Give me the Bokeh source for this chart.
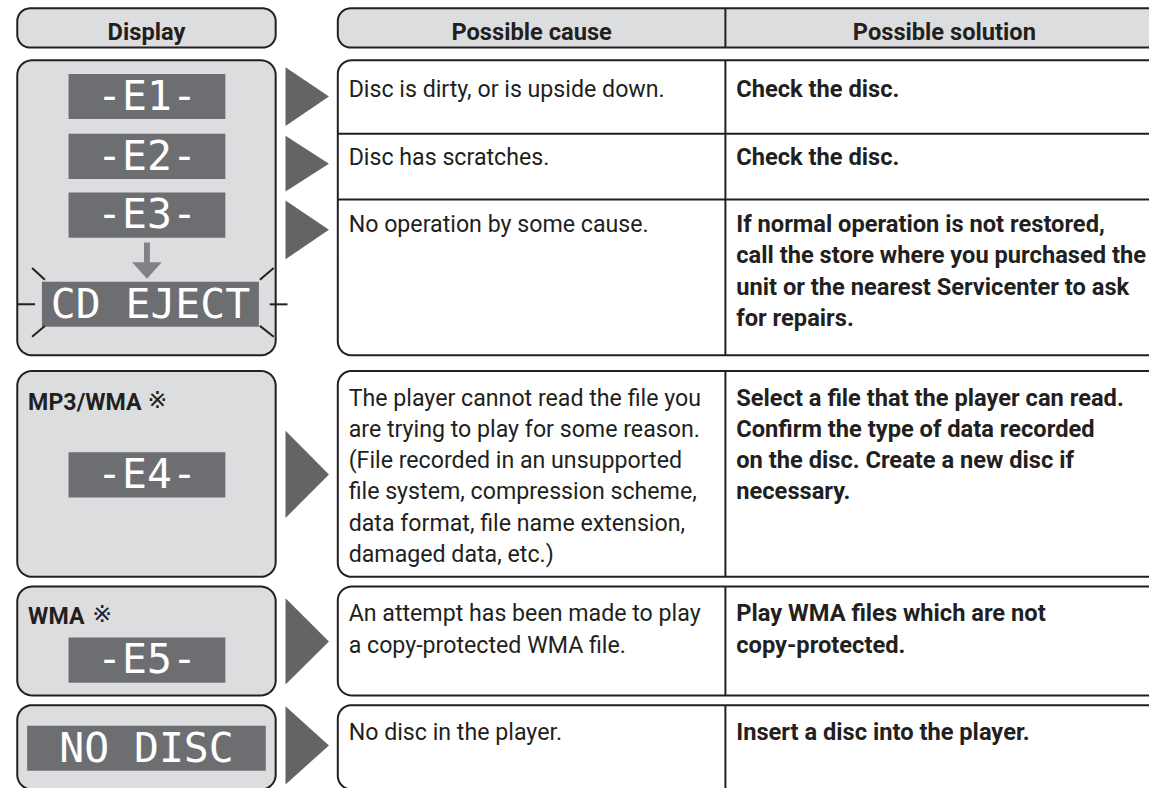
import numpy as np
from bokeh.plotting import figure
from bokeh.models import Range1d, ColumnDataSource
from bokeh.core.properties import value
from bokeh.embed import file_html
from bokeh.resources import INLINE

# ---------------- data ----------------
headers = ["Display", "Possible cause", "Possible solution"]
display_codes = ["-E1-", "-E2-", "-E3-", "CD EJECT", "-E4-", "-E5-", "NO DISC"]
format_labels = ["MP3/WMA", "WMA"]
format_mark = "\u203b"
causes = [
    "Disc is dirty, or is upside down.",
    "Disc has scratches.",
    "No operation by some cause.",
    "The player cannot read the file you\nare trying to play for some reason.\n(File recorded in an unsupported\nfile system, compression scheme,\ndata format, file name extension,\ndamaged data, etc.)",
    "An attempt has been made to play\na copy-protected WMA file.",
    "No disc in the player.",
]
solutions = [
    "Check the disc.",
    "Check the disc.",
    "If normal operation is not restored,\ncall the store where you purchased the\nunit or the nearest Servicenter to ask\nfor repairs.",
    "Select a file that the player can read.\nConfirm the type of data recorded\non the disc. Create a new disc if\nnecessary.",
    "Play WMA files which are not\ncopy-protected.",
    "Insert a disc into the player.",
]

# ---------------- layout (reference pixels) ----------------
W, H = 1149, 788
RW, RH = 1165, 804
S = W / RW
INK = "#231f20"
PANEL = "#dcdddf"
LCD = "#6d6e71"
ARROW = "#636466"
DOWN = "#808285"
SANS = "Roboto"
MONO = "DejaVu Sans Mono"
SHIFT_SANS = 0.28   # renderer baseline compensation (em)
SHIFT_MONO = 0.40

LEFT = (17, 279)
RIGHT = (342, 1182)
DIV_X = 735
HEADER_Y = (8, 48)
BLOCKS = [(61, 362), (378, 588), (598, 709), (719, 805)]
SUBSEP = [136, 203]
TRI_X = (289, 333)
TRIS = [(68, 128), (138, 195), (204, 264), (439, 528), (610, 698), (720, 800)]
BASE = [97, 166, 235, 412, 632, 753]
PITCH = 31.8
CAUSE_X, SOL_X = 353, 746
LCDS = [(69, 228, 75, 121), (69, 228, 136, 182), (69, 228, 196, 242),
        (42, 262, 287, 333), (69, 228, 461, 507), (69, 228, 650, 696),
        (27, 269, 740, 786)]
LABEL_POS = [(28, 416, 159, 409), (28, 635, 103, 628)]

F_BODY, F_BOLD, F_HEAD, F_LABEL, F_MARK = 23.5, 24.0, 24.0, 23.5, 24.0


def px(size):
    return "%.2fpx" % (size * S)


def rrect(x0, y0, x1, y1, r):
    xs, ys = [], []
    specs = [((x0 + r, y0 + r), np.pi, 1.5 * np.pi),
             ((x1 - r, y0 + r), 1.5 * np.pi, 2 * np.pi),
             ((x1 - r, y1 - r), 0.0, 0.5 * np.pi),
             ((x0 + r, y1 - r), 0.5 * np.pi, np.pi)]
    for c, a0, a1 in specs:
        t = np.linspace(a0, a1, 12)
        xs += list(c[0] + r * np.cos(t))
        ys += list(c[1] + r * np.sin(t))
    return xs, ys


p = figure(width=W, height=H, x_range=Range1d(0, RW), y_range=Range1d(RH, 0),
           output_backend="svg", toolbar_location=None, x_axis_type=None, y_axis_type=None,
           min_border=0)
p.outline_line_color = None
p.background_fill_color = "white"
p.border_fill_color = "white"

# panels
gray_xs, gray_ys, white_xs, white_ys = [], [], [], []
y0, y1 = HEADER_Y
for (a0, a1) in [LEFT, RIGHT]:
    a, b = rrect(a0, y0, a1, y1, 13); gray_xs.append(a); gray_ys.append(b)
for (y0, y1) in BLOCKS:
    a, b = rrect(LEFT[0], y0, LEFT[1], y1, 15); gray_xs.append(a); gray_ys.append(b)
    a, b = rrect(RIGHT[0], y0, RIGHT[1], y1, 14); white_xs.append(a); white_ys.append(b)
p.patches(gray_xs, gray_ys, fill_color=PANEL, line_color=INK, line_width=2)
p.patches(white_xs, white_ys, fill_color="white", line_color=INK, line_width=2)

# dividers
seg_x0, seg_y0, seg_x1, seg_y1 = [], [], [], []
for (y0, y1) in [HEADER_Y] + BLOCKS:
    seg_x0.append(DIV_X); seg_x1.append(DIV_X); seg_y0.append(y0); seg_y1.append(y1)
for y in SUBSEP:
    seg_x0.append(RIGHT[0]); seg_x1.append(RIGHT[1]); seg_y0.append(y); seg_y1.append(y)
p.segment(seg_x0, seg_y0, seg_x1, seg_y1, line_color=INK, line_width=2)

# pointer triangles
p.patches([[TRI_X[0], TRI_X[0], TRI_X[1]] for _ in TRIS],
          [[t, b, (t + b) / 2] for (t, b) in TRIS],
          fill_color=ARROW, line_color=None)

# LCD panels
p.quad(left=[l[0] for l in LCDS], right=[l[1] for l in LCDS],
       top=[l[2] for l in LCDS], bottom=[l[3] for l in LCDS],
       fill_color=LCD, line_color=None)
lcd_sizes = [42.0] * len(display_codes)
lcd_src = ColumnDataSource(dict(
    x=[(l[0] + l[1]) / 2 for l in LCDS],
    y=[l[3] - 7 - SHIFT_MONO * f for l, f in zip(LCDS, lcd_sizes)],
    text=display_codes,
    size=[px(f) for f in lcd_sizes]))
p.text(x="x", y="y", text="text", source=lcd_src, text_font=value(MONO),
       text_font_size="size", text_color="white", text_align="center",
       text_baseline="alphabetic")

# down arrow between E3 and CD EJECT
cx = (LCDS[2][0] + LCDS[2][1]) / 2
p.patches([[cx - 3, cx + 3, cx + 3, cx + 15, cx, cx - 15, cx - 3]],
          [[LCDS[2][3] + 5, LCDS[2][3] + 5, 267, 267, 284, 267, 267]],
          fill_color=DOWN, line_color=None)

# blinking marks around CD EJECT
l = LCDS[3]
my = (l[2] + l[3]) / 2
sx0 = [l[0] - 25, l[1] + 11, l[0] - 10, l[1] + 1, l[0] - 10, l[1] + 1]
sx1 = [l[0] - 7, l[1] + 29, l[0] + 3, l[1] + 15, l[0] + 3, l[1] + 15]
sy0 = [my, my, l[2] - 14, l[2] - 2, l[3] + 10, l[3] - 1]
sy1 = [my, my, l[2] - 2, l[2] - 14, l[3] - 1, l[3] + 10]
p.segment(sx0, sy0, sx1, sy1, line_color=INK, line_width=2)

# headers
hx = [(LEFT[0] + LEFT[1]) / 2, (RIGHT[0] + DIV_X) / 2, (DIV_X + 1179) / 2]
p.text(x=hx, y=[39 - SHIFT_SANS * F_HEAD] * 3, text=headers, text_font=value(SANS),
       text_font_size=px(F_HEAD), text_font_style="bold", text_color=INK,
       text_align="center", text_baseline="alphabetic")

# format labels
p.text(x=[q[0] for q in LABEL_POS], y=[q[1] - SHIFT_SANS * F_LABEL for q in LABEL_POS],
       text=format_labels, text_font=value(SANS), text_font_size=px(F_LABEL),
       text_font_style="bold", text_color=INK, text_align="left", text_baseline="alphabetic")
p.text(x=[q[2] for q in LABEL_POS], y=[q[3] + 8 - SHIFT_MONO * F_MARK for q in LABEL_POS],
       text=[format_mark] * len(LABEL_POS), text_font=value("DejaVu Sans"),
       text_font_size=px(F_MARK), text_color=INK, text_align="center", text_baseline="alphabetic")


def lines_source(texts, x, size):
    xs, ys, ts = [], [], []
    for i, t in enumerate(texts):
        for k, line in enumerate(t.split("\n")):
            xs.append(x); ys.append(BASE[i] + k * PITCH - SHIFT_SANS * size); ts.append(line)
    return ColumnDataSource(dict(x=xs, y=ys, text=ts))


p.text(x="x", y="y", text="text", source=lines_source(causes, CAUSE_X, F_BODY),
       text_font=value(SANS), text_font_size=px(F_BODY), text_color=INK,
       text_align="left", text_baseline="alphabetic")
p.text(x="x", y="y", text="text", source=lines_source(solutions, SOL_X, F_BOLD),
       text_font=value(SANS), text_font_size=px(F_BOLD), text_font_style="bold",
       text_color=INK, text_align="left", text_baseline="alphabetic")

open("out.html", "w").write(file_html(p, INLINE))
